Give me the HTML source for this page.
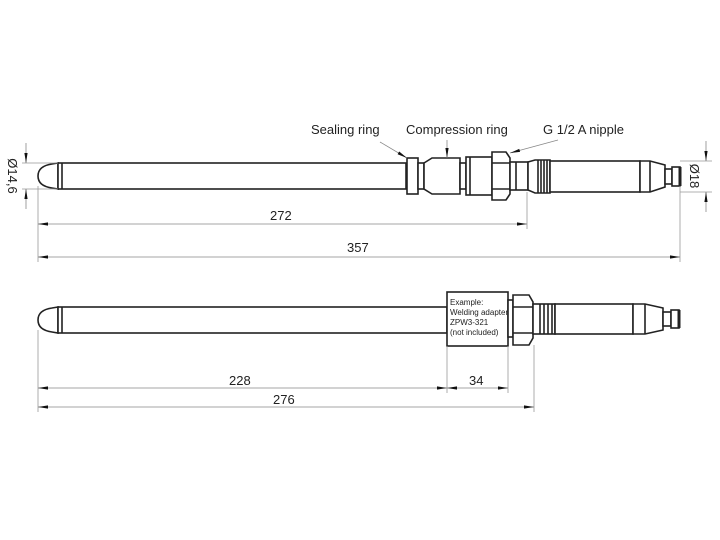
<!DOCTYPE html>
<html><head><meta charset="utf-8"><style>html,body{margin:0;padding:0;background:#fff}svg{display:block}</style></head>
<body>
<svg width="720" height="540" viewBox="0 0 720 540" xmlns="http://www.w3.org/2000/svg" font-family="Liberation Sans, sans-serif">
<defs>
<marker id="a" viewBox="0 0 10 4" refX="10" refY="2" markerWidth="12" markerHeight="4" orient="auto-start-reverse" markerUnits="userSpaceOnUse"><path d="M0,0.4 L10,2 L0,3.6z" fill="#111"/></marker>
</defs>
<g fill="#fff" stroke="#222" stroke-width="1.6">
<path d="M58,163 L52,164 Q38,166 38,176 Q38,186 52,188 L58,189 Z"/>
<rect x="58" y="163" width="348" height="26"/>
<line x1="62" y1="163" x2="62" y2="189"/>
<rect x="407" y="158" width="11" height="36"/>
<rect x="418" y="163" width="6" height="26"/>
<path d="M424,163 L432,158 L460,158 L460,194 L432,194 L424,189 Z"/>
<rect x="460" y="163" width="6" height="26"/>
<rect x="466" y="157" width="26" height="38"/>
<line x1="470" y1="157" x2="470" y2="195"/>
<path d="M492,152 L506,152 L510,158 L510,194 L506,200 L492,200 Z"/>
<line x1="492" y1="163" x2="510" y2="163"/><line x1="492" y1="189" x2="510" y2="189"/>
<rect x="510" y="162" width="18" height="28"/>
<line x1="516" y1="162" x2="516" y2="190"/>
<path d="M528,162 L535,160 L550,160 L550,193 L535,193 L528,190 Z"/>
<line x1="538" y1="160" x2="538" y2="193"/><line x1="541" y1="160" x2="541" y2="193"/><line x1="544" y1="160" x2="544" y2="193"/><line x1="547" y1="160" x2="547" y2="193"/>
<rect x="550" y="161" width="90" height="31"/>
<path d="M640,161 L650,161 L665,165 L665,187 L650,192 L640,192 Z"/>
<line x1="650" y1="161" x2="650" y2="192"/>
<rect x="665" y="169" width="7" height="15"/>
<rect x="672" y="167" width="8" height="19"/>
<line x1="680" y1="167" x2="680" y2="186" stroke-width="3"/>
<path d="M58,307 L52,308 Q38,310 38,320 Q38,330 52,332 L58,333 Z"/>
<rect x="58" y="307" width="389" height="26"/>
<line x1="62" y1="307" x2="62" y2="333"/>
<rect x="447" y="292" width="61" height="54"/>
<rect x="508" y="300" width="5" height="37"/>
<path d="M513,295 L529,295 L533,302 L533,338 L529,345 L513,345 Z"/>
<line x1="513" y1="307" x2="533" y2="307"/><line x1="513" y1="333" x2="533" y2="333"/>
<rect x="533" y="304" width="22" height="30"/>
<line x1="540" y1="304" x2="540" y2="334"/><line x1="544" y1="304" x2="544" y2="334"/><line x1="548" y1="304" x2="548" y2="334"/><line x1="552" y1="304" x2="552" y2="334"/>
<rect x="555" y="304" width="78" height="30"/>
<path d="M633,304 L645,304 L663,308 L663,330 L645,334 L633,334 Z"/>
<line x1="645" y1="304" x2="645" y2="334"/>
<rect x="663" y="312" width="8" height="14"/>
<rect x="671" y="310" width="8" height="18"/>
<line x1="679" y1="310" x2="679" y2="328" stroke-width="3"/>
</g>
<g fill="#222" font-size="8">
<text x="450" y="305">Example:</text>
<text x="450" y="315">Welding adapter</text>
<text x="450" y="325">ZPW3-321</text>
<text x="450" y="335">(not included)</text>
</g>
<g stroke="#999" stroke-width="0.8" fill="none">
<line x1="22" y1="163" x2="58" y2="163"/><line x1="22" y1="189" x2="58" y2="189"/>
<line x1="38" y1="186" x2="38" y2="262"/>
<line x1="527" y1="192" x2="527" y2="229"/>
<line x1="680" y1="186" x2="680" y2="262"/>
<line x1="680" y1="161" x2="712" y2="161"/><line x1="680" y1="192" x2="712" y2="192"/>
<line x1="38" y1="330" x2="38" y2="412"/>
<line x1="447" y1="346" x2="447" y2="393"/>
<line x1="508" y1="346" x2="508" y2="393"/>
<line x1="534" y1="345" x2="534" y2="412"/>
</g>
<g stroke="#888" stroke-width="0.8" fill="none">
<line x1="38" y1="224" x2="527" y2="224" marker-start="url(#a)" marker-end="url(#a)"/>
<line x1="38" y1="257" x2="680" y2="257" marker-start="url(#a)" marker-end="url(#a)"/>
<line x1="38" y1="388" x2="447" y2="388" marker-start="url(#a)" marker-end="url(#a)"/>
<line x1="447" y1="388" x2="508" y2="388" marker-start="url(#a)" marker-end="url(#a)"/>
<line x1="38" y1="407" x2="534" y2="407" marker-start="url(#a)" marker-end="url(#a)"/>
<line x1="26" y1="143" x2="26" y2="163" marker-end="url(#a)"/>
<line x1="26" y1="209" x2="26" y2="189" marker-end="url(#a)"/>
<line x1="706" y1="141" x2="706" y2="161" marker-end="url(#a)"/>
<line x1="706" y1="212" x2="706" y2="192" marker-end="url(#a)"/>
<line x1="380" y1="142" x2="407" y2="158" marker-end="url(#a)"/>
<line x1="447" y1="140" x2="447" y2="158" marker-end="url(#a)"/>
<line x1="558" y1="140" x2="510" y2="153" marker-end="url(#a)"/>
</g>
<g fill="#222" font-size="13">
<text x="311" y="134">Sealing ring</text>
<text x="406" y="134">Compression ring</text>
<text x="543" y="134">G 1/2 A nipple</text>
<text x="270" y="220">272</text>
<text x="347" y="252">357</text>
<text x="229" y="385">228</text>
<text x="469" y="385">34</text>
<text x="273" y="404">276</text>
<text transform="translate(8,176) rotate(90)" text-anchor="middle">Ø14,6</text>
<text transform="translate(690,176) rotate(90)" text-anchor="middle">Ø18</text>
</g>
</svg>
</body></html>
